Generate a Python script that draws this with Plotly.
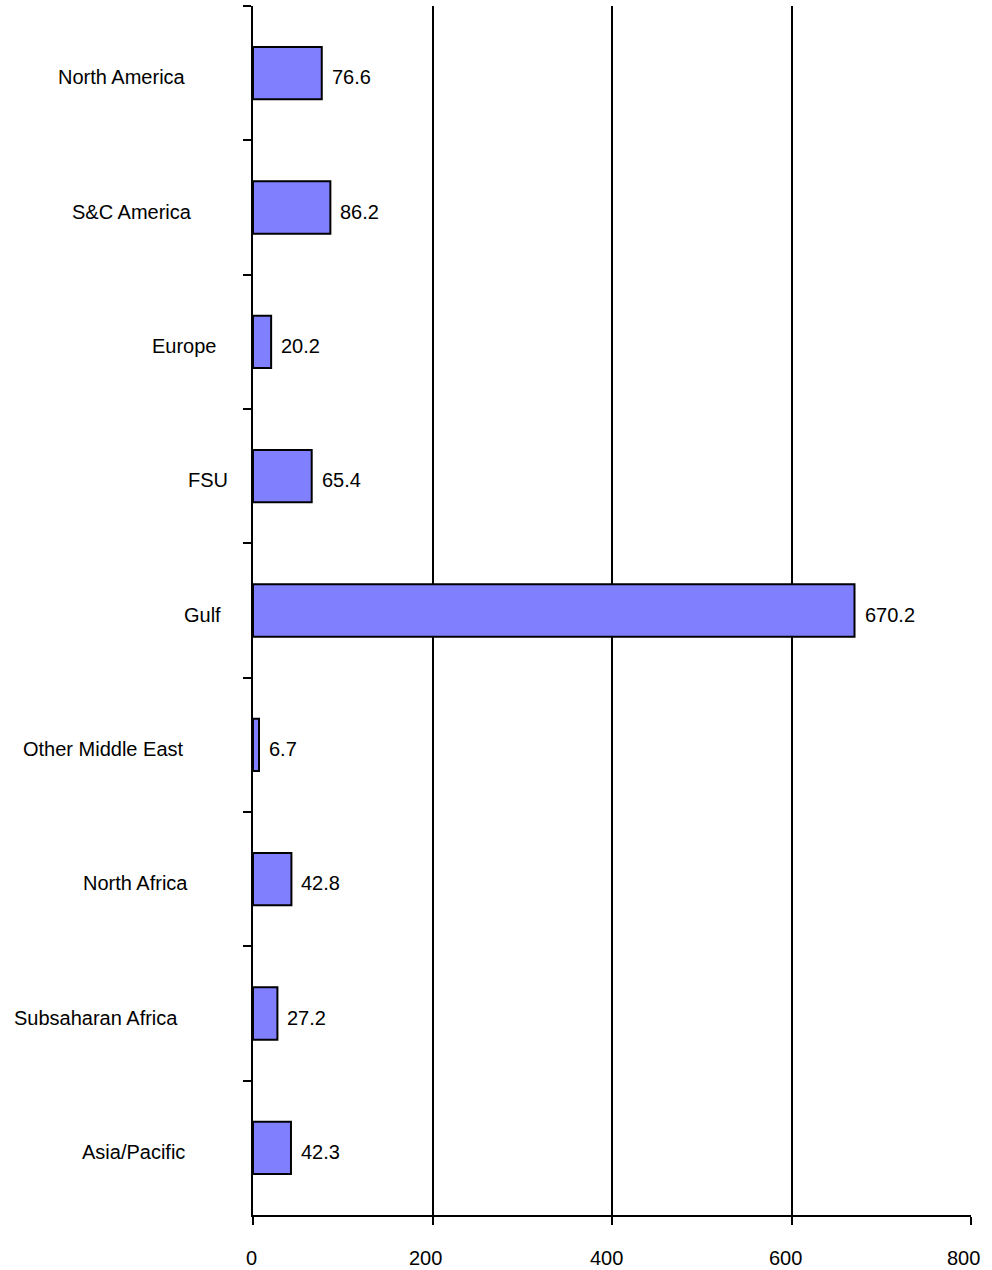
import plotly.graph_objects as go

# ---- data ----
regions = ["North America", "S&C America", "Europe", "FSU", "Gulf",
           "Other Middle East", "North Africa", "Subsaharan Africa", "Asia/Pacific"]
values = [76.6, 86.2, 20.2, 65.4, 670.2, 6.7, 42.8, 27.2, 42.3]
x_ticks = [0, 200, 400, 600, 800]

# ---- layout helpers (label horizontal offsets, in px) ----
label_centre_offset = [-131.5, -121.5, -68.5, -45.5, -50.5, -149.5, -118, -157, -119.5]
tick_label_offset = [-2, -7, -6, -6, -8]

FONT = "Liberation Sans, Arial, sans-serif"
TXT = dict(family=FONT, size=20, color="black")

fig = go.Figure()
fig.add_trace(go.Bar(
    y=regions, x=values, orientation="h",
    marker=dict(color="#8080FF", line=dict(color="black", width=2)),
    width=0.39,
    hoverinfo="skip",
))

annotations = []
for r, v, off in zip(regions, values, label_centre_offset):
    annotations.append(dict(
        x=0, y=r, xref="x", yref="y", text=r, showarrow=False,
        xanchor="center", yanchor="middle", xshift=off, yshift=-4,
        font=TXT,
    ))
    annotations.append(dict(
        x=v, y=r, xref="x", yref="y", text=f"{v:.1f}", showarrow=False,
        xanchor="left", yanchor="middle", xshift=8, yshift=-4,
        font=TXT,
    ))
for t, off in zip(x_ticks, tick_label_offset):
    annotations.append(dict(
        x=t, y=0, xref="x", yref="paper", text=str(t), showarrow=False,
        xanchor="center", yanchor="middle", xshift=off, yshift=-43,
        font=TXT,
    ))

fig.update_layout(
    width=992, height=1270,
    margin=dict(l=253, r=21, t=6, b=55),
    plot_bgcolor="white", paper_bgcolor="white",
    showlegend=False,
    font=TXT,
    annotations=annotations,
    xaxis=dict(
        range=[0, 800], tickvals=x_ticks,
        showgrid=True, gridcolor="black", gridwidth=2,
        zeroline=False, showline=True, linecolor="black", linewidth=2,
        ticks="outside", ticklen=8, tickwidth=2, tickcolor="black",
        showticklabels=False, automargin=False,
        fixedrange=True,
    ),
    yaxis=dict(
        type="category", categoryorder="array", categoryarray=regions,
        range=[len(regions) - 0.5, -0.5],
        showgrid=False, zeroline=False,
        showline=True, linecolor="black", linewidth=2,
        ticks="outside", tickson="boundaries", ticklen=8, tickwidth=2, tickcolor="black",
        showticklabels=False, automargin=False,
        fixedrange=True,
    ),
)

fig.write_html(
    "out.html",
    config={"displayModeBar": False, "staticPlot": True},
    post_script="document.body.style.margin='0px';document.body.style.overflow='hidden';",
)
